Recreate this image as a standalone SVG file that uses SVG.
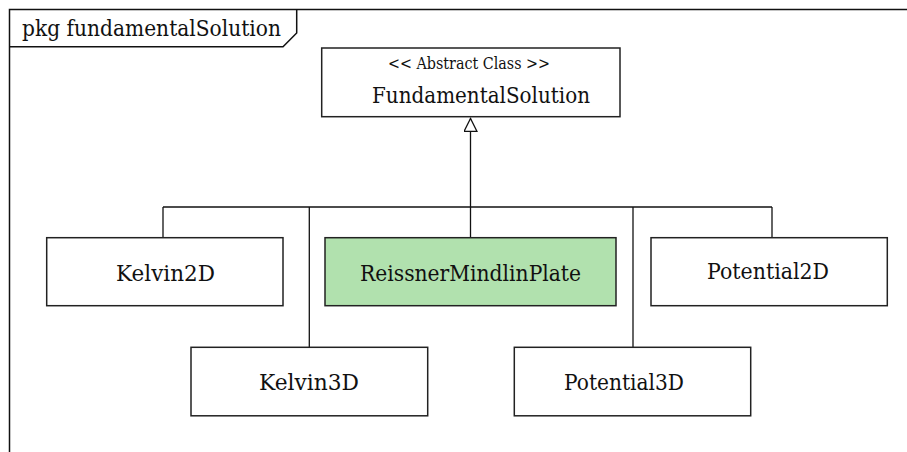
<svg xmlns="http://www.w3.org/2000/svg" width="907" height="452" viewBox="0 0 907 452">
<style>
.box{fill:#fff;stroke:#222;stroke-width:1.5}
.green{fill:#b1e1ae}
text{font-family:"DejaVu Serif","Liberation Serif",serif;font-size:23px;fill:#111}
.s{font-size:17px}
.c{fill:none;stroke:#111;stroke-width:1.3}
</style>
<defs>
<marker id="gen" markerWidth="16" markerHeight="16" refX="13.5" refY="7" orient="auto" markerUnits="userSpaceOnUse">
<path d="M13.5,7 L0.5,0.5 L0.5,13.5 Z" fill="#fff" stroke="#111" stroke-width="1.3"/>
</marker>
</defs>
<rect x="0" y="0" width="907" height="452" fill="#fff"/>
<g id="frame">
<rect x="9.5" y="9.5" width="920" height="460" fill="none" stroke="#111" stroke-width="1.5"/>
<path d="M9.5,46.7 L283,46.7 L296.7,33 L296.7,9.5" fill="none" stroke="#111" stroke-width="1.5"/>
<text x="22" y="36" textLength="259" lengthAdjust="spacingAndGlyphs">pkg fundamentalSolution</text>
</g>
<g id="connectors">
<path class="c" d="M470.5,207 L470.5,118.5" marker-end="url(#gen)"/>
<path class="c" d="M163,207 L772,207"/>
<path class="c" d="M163,207 L163,237.7"/>
<path class="c" d="M309.3,207 L309.3,347.3"/>
<path class="c" d="M470.5,207 L470.5,237.7"/>
<path class="c" d="M633,207 L633,347.3"/>
<path class="c" d="M772,207 L772,237.7"/>
</g>
<g id="FundamentalSolution">
<rect class="box" x="321.7" y="48" width="298.3" height="68.7"/>
<text class="s" x="388" y="69" textLength="162" lengthAdjust="spacingAndGlyphs">&lt;&lt; Abstract Class &gt;&gt;</text>
<text x="372" y="103" textLength="218" lengthAdjust="spacingAndGlyphs">FundamentalSolution</text>
</g>
<g id="Kelvin2D">
<rect class="box" x="46.7" y="237.7" width="236.3" height="68"/>
<text x="116" y="280.5" textLength="99" lengthAdjust="spacingAndGlyphs">Kelvin2D</text>
</g>
<g id="ReissnerMindlinPlate">
<rect class="box green" x="325" y="237.7" width="291" height="68"/>
<text x="360" y="280.5" textLength="221" lengthAdjust="spacingAndGlyphs">ReissnerMindlinPlate</text>
</g>
<g id="Potential2D">
<rect class="box" x="651" y="237.7" width="236.3" height="68"/>
<text x="707" y="279" textLength="122" lengthAdjust="spacingAndGlyphs">Potential2D</text>
</g>
<g id="Kelvin3D">
<rect class="box" x="191" y="347.3" width="236.7" height="68.5"/>
<text x="259" y="390" textLength="100" lengthAdjust="spacingAndGlyphs">Kelvin3D</text>
</g>
<g id="Potential3D">
<rect class="box" x="514.3" y="347.3" width="236.4" height="68.5"/>
<text x="564" y="390" textLength="120" lengthAdjust="spacingAndGlyphs">Potential3D</text>
</g>
</svg>
